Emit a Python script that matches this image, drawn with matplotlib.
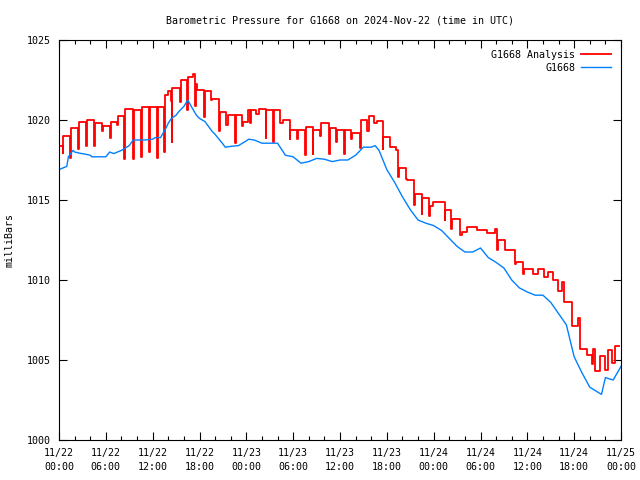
import matplotlib
matplotlib.use("Agg")
import matplotlib.pyplot as plt
import numpy as np

# ---- data (hours since 2024-11-22 00:00 UTC) ----
tick_hours = [0, 6, 12, 18, 24, 30, 36, 42, 48, 54, 60, 66, 72]
tick_labels = ["11/22\n00:00", "11/22\n06:00", "11/22\n12:00", "11/22\n18:00",
               "11/23\n00:00", "11/23\n06:00", "11/23\n12:00", "11/23\n18:00",
               "11/24\n00:00", "11/24\n06:00", "11/24\n12:00", "11/24\n18:00",
               "11/25\n00:00"]

# station observations (blue)
obs_t = [0, 0.5, 1, 1.2, 1.8, 2, 2.9, 3, 4, 4.2, 5, 6, 6.5, 7, 8, 9, 9.5, 10, 11, 12,
         12.3, 13, 13.6, 14, 14.4, 15, 15.3, 16, 16.5, 17, 17.6, 18, 18.7, 19, 19.6, 20,
         21, 21.3, 22, 23, 24, 24.3, 25, 26, 27, 28, 29, 30, 31, 32, 33, 34, 35, 36,
         37, 38, 39, 40, 40.5, 41, 42, 43, 44, 45, 46, 47, 48, 49, 50, 51, 52, 53,
         54, 55, 56, 57, 58, 59, 60, 61, 62, 63, 64, 65, 66, 67, 68, 69, 69.5, 70,
         71, 72]
obs_mb = [1016.9, 1017.0, 1017.1, 1017.7, 1018.1, 1018.0, 1017.9, 1017.9, 1017.8, 1017.7,
          1017.7, 1017.7, 1018.0, 1017.9, 1018.1, 1018.4, 1018.75, 1018.75, 1018.75, 1018.8,
          1018.9, 1018.9, 1019.4, 1019.8, 1020.1, 1020.3, 1020.5, 1020.85, 1021.25, 1020.8,
          1020.3, 1020.1, 1019.9, 1019.7, 1019.3, 1019.1, 1018.5, 1018.3, 1018.35, 1018.4,
          1018.7, 1018.8, 1018.75, 1018.55, 1018.55, 1018.55, 1017.8, 1017.7, 1017.3,
          1017.4, 1017.6, 1017.55, 1017.4, 1017.5, 1017.5, 1017.8, 1018.3, 1018.3, 1018.4,
          1018.1, 1016.9, 1016.1, 1015.2, 1014.4, 1013.75, 1013.55, 1013.4, 1013.1, 1012.6,
          1012.1, 1011.75, 1011.75, 1012.0, 1011.4, 1011.1, 1010.75, 1010.0, 1009.5,
          1009.25, 1009.05, 1009.05, 1008.6, 1007.9, 1007.2, 1005.2, 1004.2, 1003.3,
          1003.0, 1002.85, 1003.9, 1003.75, 1004.6]

# analysis (red), step breakpoints
ana_t = [0.0, 0.45, 0.55, 1.42, 1.52, 2.45, 2.55, 3.45, 3.57, 4.45, 4.57, 5.45, 5.65,
         6.5, 6.62, 7.4, 7.5, 8.38, 8.48, 9.45, 9.57, 10.45, 10.6, 11.5, 11.62, 12.5,
         12.62, 13.5, 13.6, 14.0, 14.3, 14.42, 14.52, 15.45, 15.6, 16.38, 16.48, 17.2,
         17.42, 17.52, 17.65, 18.55, 18.67, 19.45, 19.55, 20.48, 20.6, 21.45, 21.6,
         22.52, 22.62, 23.4, 23.6, 24.2, 24.47, 24.6, 25.3, 25.66, 26.46, 26.56, 27.44,
         27.54, 28.31, 28.74, 29.55, 29.65, 30.45, 30.6, 31.5, 31.6, 32.48, 32.58,
         33.44, 33.6, 34.57, 34.67, 35.47, 35.6, 36.48, 36.6, 37.47, 37.6, 38.54,
         38.64, 39.4, 39.7, 40.35, 40.78, 41.45, 41.55, 42.4, 43.17, 43.4, 43.5, 44.45,
         44.55, 45.45, 45.55, 46.45, 46.55, 47.44, 47.52, 47.96, 49.4, 49.5, 50.25,
         50.35, 51.37, 51.6, 52.3, 53.6, 54.79, 55.9, 56.07, 56.2, 57.1, 58.42, 58.5,
         59.5, 59.6, 60.68, 61.4, 62.13, 62.69, 63.33, 63.97, 64.5, 64.69, 65.68,
         66.55, 66.7, 67.6, 68.24, 68.45, 68.67, 69.3, 69.9, 70.37, 70.9, 71.2, 71.8]
ana_mb = [1018.4, 1017.95, 1019.0, 1017.6, 1019.5, 1018.2, 1019.85, 1018.4, 1020.0,
          1018.4, 1019.8, 1019.3, 1019.6, 1018.9, 1019.9, 1019.7, 1020.25, 1017.55,
          1020.7, 1017.55, 1020.6, 1017.7, 1020.8, 1018.0, 1020.8, 1017.6, 1020.8,
          1018.0, 1021.55, 1021.8, 1021.2, 1018.65, 1022.0, 1021.1, 1022.5, 1020.6,
          1022.7, 1022.9, 1020.9, 1022.25, 1021.9, 1020.2, 1021.8, 1021.25, 1021.3,
          1019.3, 1020.5, 1019.7, 1020.3, 1018.55, 1020.3, 1019.6, 1019.9, 1020.6,
          1019.8, 1020.6, 1020.4, 1020.7, 1018.9, 1020.6, 1018.65, 1020.6, 1019.8,
          1020.0, 1018.8, 1019.4, 1018.8, 1019.4, 1017.8, 1019.55, 1017.9, 1019.4,
          1019.0, 1019.8, 1017.9, 1019.5, 1018.6, 1019.4, 1017.9, 1019.4, 1018.8,
          1019.2, 1018.25, 1020.0, 1019.3, 1020.25, 1019.8, 1019.95, 1018.2, 1018.95,
          1018.3, 1018.1, 1016.45, 1017.0, 1016.3, 1016.25, 1014.7, 1015.4, 1014.1,
          1015.1, 1014.0, 1014.6, 1014.9, 1013.75, 1014.4, 1013.2, 1013.8, 1012.8,
          1013.0, 1013.3, 1013.1, 1012.95, 1013.2, 1011.9, 1012.5, 1011.9, 1011.0,
          1011.15, 1010.4, 1010.7, 1010.4, 1010.7, 1010.2, 1010.5, 1010.0, 1009.3,
          1009.9, 1008.6, 1007.1, 1007.6, 1005.7, 1005.3, 1004.75, 1005.7, 1004.3,
          1005.25, 1004.4, 1005.6, 1004.8, 1005.9, 1005.9]

# ---- plot ----
plt.rcParams['font.family'] = ['DejaVu Sans Mono']
fs = 7.2

fig = plt.figure(figsize=(6.4, 4.8), dpi=100)
ax = fig.add_axes([59/640, 40/480, 562/640, 400/480])

ax.plot(ana_t, ana_mb, color='#ff0000', lw=1.3, drawstyle='steps-post',
        label='G1668 Analysis')
ax.plot(obs_t, obs_mb, color='#0080ff', lw=1.0, label='G1668')

ax.set_xlim(0, 72)
ax.set_ylim(1000, 1025)
ax.set_yticks([1000, 1005, 1010, 1015, 1020, 1025])
ax.set_xticks(tick_hours)
ax.set_xticklabels(tick_labels, fontsize=fs, linespacing=1.5)
ax.set_xticks(np.arange(0, 73, 2), minor=True)
ax.tick_params(axis='both', which='both', direction='in', top=True, right=True,
               labelsize=fs, width=0.8)
ax.tick_params(axis='both', which='major', length=6)
ax.tick_params(axis='x', which='minor', length=3)
ax.tick_params(axis='x', pad=6)
ax.tick_params(axis='y', pad=6)
for s in ax.spines.values():
    s.set_linewidth(0.8)

ax.set_ylabel('milliBars', fontsize=fs, labelpad=9)
ax.set_title('Barometric Pressure for G1668 on 2024-Nov-22 (time in UTC)',
             fontsize=fs, pad=12)

leg = ax.legend(loc='upper right', fontsize=fs, frameon=False, markerfirst=False,
                handlelength=3.0, handletextpad=0.6, borderaxespad=0.6,
                labelspacing=0.3)
for t in leg.get_texts():
    t.set_ha('right')

fig.savefig('out.png', dpi=100)
